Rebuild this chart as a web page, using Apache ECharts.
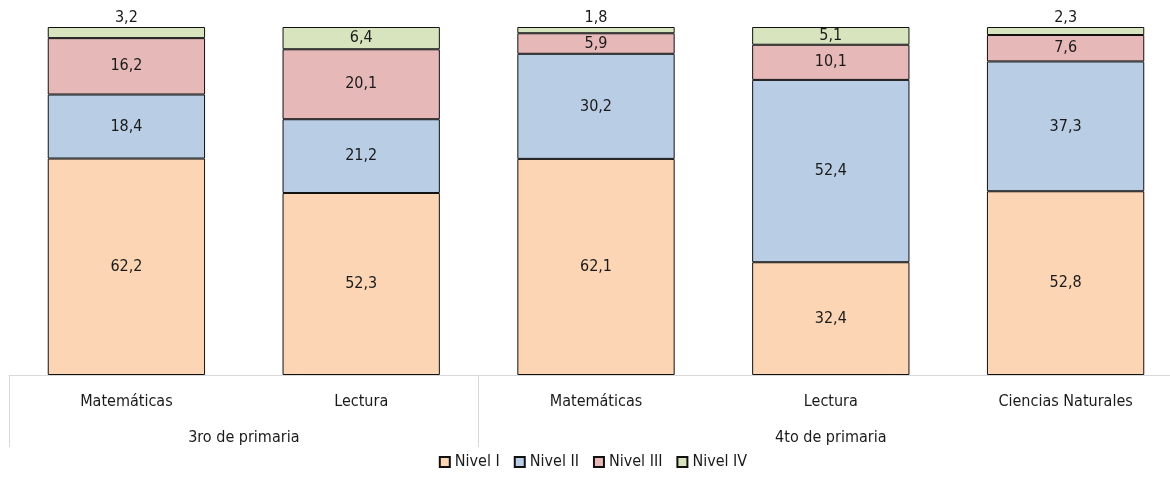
<!DOCTYPE html>
<html>
<head>
<meta charset="utf-8">
<script src="https://cdn.jsdelivr.net/npm/echarts@6/dist/echarts.min.js"></script>
<style>
  html, body { margin: 0; padding: 0; background: #fff; overflow: hidden; }
  #chart { width: 1186px; height: 479px; }
</style>
</head>
<body>
<div id="chart"></div>
<script>
const categories = ['Matemáticas', 'Lectura', 'Matemáticas', 'Lectura', 'Ciencias Naturales'];
const groupNames = ['3ro de primaria', '4to de primaria'];
const groupSizes = [2, 3];

const nivel1 = [62.2, 52.3, 62.1, 32.4, 52.8];
const nivel2 = [18.4, 21.2, 30.2, 52.4, 37.3];
const nivel3 = [16.2, 20.1, 5.9, 10.1, 7.6];
const nivel4 = [3.2, 6.4, 1.8, 5.1, 2.3];

const seriesNames = ['Nivel I', 'Nivel II', 'Nivel III', 'Nivel IV'];
const seriesColors = ['#FCD5B5', '#B9CDE5', '#E6B9B8', '#D7E4BD'];

const font = "'Liberation Sans Narrow', 'DejaVu Sans Condensed', sans-serif";

document.addEventListener('DOMContentLoaded', function() {
	const chart = echarts.init(document.getElementById('chart'));

	// group axis: two slots per category, labels at group centres, ticks at group edges
	const total = categories.length;
	const groupSlots = new Array(total * 2 + 1).fill('');
	const groupEdges = [0];
	let start = 0;
	groupNames.forEach(function(name, i) {
		groupSlots[start * 2 + groupSizes[i]] = name;
		start += groupSizes[i];
		groupEdges.push(start * 2);
	});

	const fmt = function(p) {
		return p.value.toFixed(1).replace('.', ',');
	};

	const levels = [nivel1, nivel2, nivel3, nivel4];
	const series = levels.map(function(values, i) {
		return {
			name: seriesNames[i],
			type: 'bar',
			stack: 'total',
			barWidth: '67%',
			itemStyle: {
				color: seriesColors[i],
				borderColor: '#111',
				borderWidth: 1
			},
			label: {
				show: true,
				position: 'inside',
				color: '#1a1a1a',
				fontFamily: font,
				fontSize: 16,
				formatter: fmt
			},
			data: values.map(function(v) {
				if (i === 3 && v < 4) {
					return { value: v, label: { position: 'top', distance: 1 } };
				}
				return v;
			})
		};
	});

	const option = {
		animation: false,
		textStyle: { fontFamily: font },
		grid: {
			left: 9,
			right: 0,
			top: 27,
			bottom: 104,
			containLabel: false
		},
		legend: {
			bottom: 4,
			left: 'center',
			icon: 'rect',
			itemWidth: 10,
			itemHeight: 10,
			itemGap: 14,
			textStyle: {
				fontFamily: font,
				fontSize: 16,
				color: '#1a1a1a'
			},
			data: seriesNames
		},
		xAxis: [
			{
				type: 'category',
				data: categories,
				axisLine: { lineStyle: { color: '#d9d9d9', width: 1 } },
				axisTick: { show: false },
				axisLabel: {
					interval: 0,
					margin: 19,
					fontFamily: font,
					fontSize: 16,
					color: '#1a1a1a'
				}
			},
			{
				type: 'category',
				position: 'bottom',
				boundaryGap: false,
				data: groupSlots,
				axisLine: { show: false },
				axisTick: {
					show: true,
					length: 72,
					interval: function(index) {
						return groupEdges.indexOf(index) !== -1;
					},
					lineStyle: { color: '#d9d9d9', width: 1 }
				},
				axisLabel: {
					interval: 0,
					margin: 55,
					fontFamily: font,
					fontSize: 16,
					color: '#1a1a1a'
				}
			}
		],
		yAxis: {
			type: 'value',
			min: 0,
			max: 100,
			show: false
		},
		series: series
	};
	chart.setOption(option);
});
</script>
</body>
</html>
